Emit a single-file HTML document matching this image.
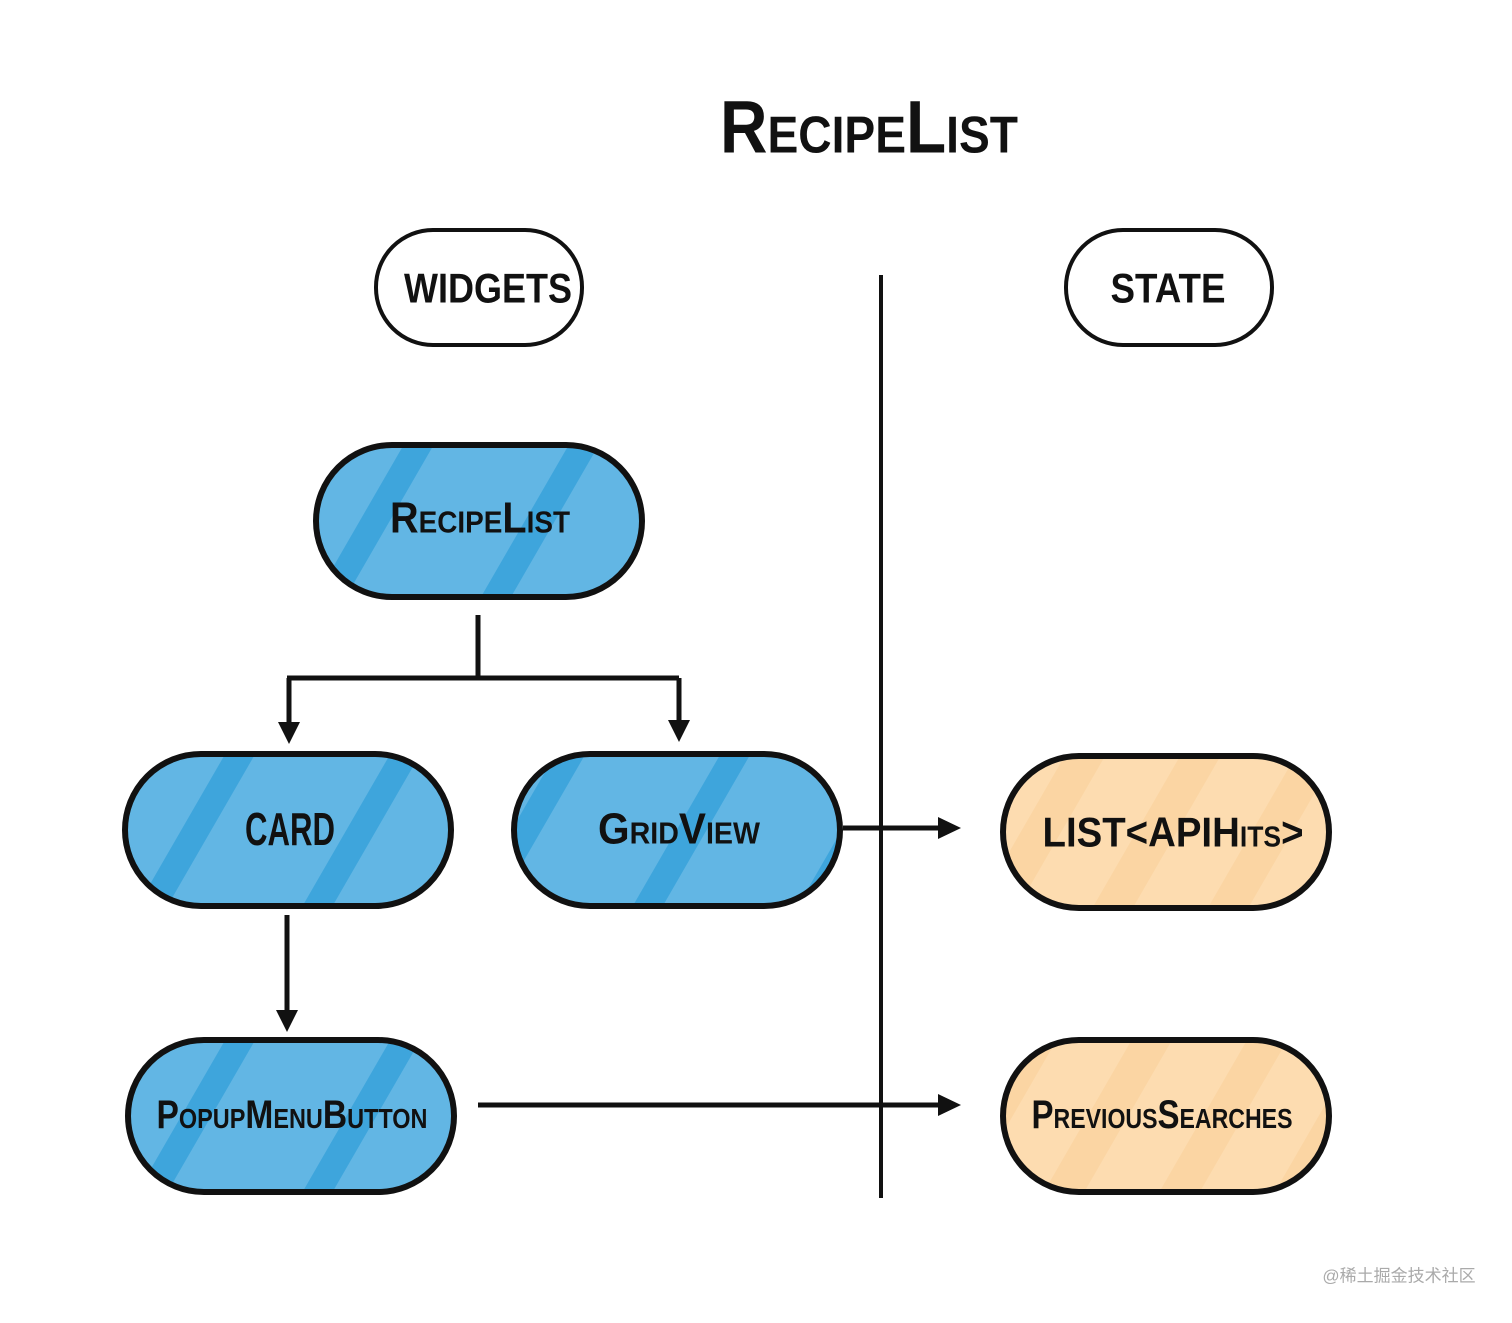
<!DOCTYPE html>
<html><head><meta charset="utf-8"><style>
html,body{margin:0;padding:0;background:#fff}
svg text{font-family:"Liberation Sans",sans-serif;font-weight:bold;fill:#111;text-anchor:middle;dominant-baseline:central}
</style></head><body>
<svg width="1512" height="1318" viewBox="0 0 1512 1318" xmlns="http://www.w3.org/2000/svg">
<defs>
<pattern id="bs" patternUnits="userSpaceOnUse" width="143" height="143" patternTransform="rotate(30)">
<rect width="143" height="143" fill="#62b6e4"/><rect x="0" width="26" height="143" fill="#3ea5dc"/>
</pattern>
<pattern id="os" patternUnits="userSpaceOnUse" width="100" height="100" patternTransform="rotate(30)">
<rect width="100" height="100" fill="#fddcb0"/><rect x="0" width="35" height="100" fill="#fbd5a3"/>
</pattern>
</defs>
<text x="869" y="127" textLength="298" lengthAdjust="spacingAndGlyphs" style="font-size:74px;font-variant:small-caps">RecipeList</text>

<rect x="376" y="230" width="206" height="115" rx="57" fill="#fff" stroke="#111" stroke-width="4"/>
<text x="488" y="288" textLength="168" lengthAdjust="spacingAndGlyphs" style="font-size:42px">WIDGETS</text>
<rect x="1066" y="230" width="206" height="115" rx="57" fill="#fff" stroke="#111" stroke-width="4"/>
<text x="1168" y="288" textLength="115" lengthAdjust="spacingAndGlyphs" style="font-size:42px">STATE</text>

<line x1="881" y1="275" x2="881" y2="1198" stroke="#111" stroke-width="4"/>

<g stroke="#111" stroke-width="6">
<rect x="316" y="445" width="326" height="152" rx="76" fill="url(#bs)"/>
<rect x="125" y="754" width="326" height="152" rx="76" fill="url(#bs)"/>
<rect x="514" y="754" width="326" height="152" rx="76" fill="url(#bs)"/>
<rect x="128" y="1040" width="326" height="152" rx="76" fill="url(#bs)"/>
<rect x="1003" y="756" width="326" height="152" rx="76" fill="url(#os)"/>
<rect x="1003" y="1040" width="326" height="152" rx="76" fill="url(#os)"/>
</g>
<g style="font-variant:small-caps">
<text x="480" y="518" textLength="180" lengthAdjust="spacingAndGlyphs" style="font-size:44px">RecipeList</text>
<text x="290" y="829" textLength="90" lengthAdjust="spacingAndGlyphs" style="font-size:46px">CARD</text>
<text x="679" y="829" textLength="162" lengthAdjust="spacingAndGlyphs" style="font-size:44px">GridView</text>
<text x="292" y="1115" textLength="271" lengthAdjust="spacingAndGlyphs" style="font-size:40px">PopupMenuButton</text>
<text x="1173" y="832" textLength="261" lengthAdjust="spacingAndGlyphs" style="font-size:42px">LIST&lt;APIHits&gt;</text>
<text x="1162" y="1115" textLength="261" lengthAdjust="spacingAndGlyphs" style="font-size:40px">PreviousSearches</text>
</g>

<g stroke="#111" stroke-width="5" fill="none">
<path d="M478 615 V678 M287 678 H679 M289 678 V725 M679 678 V723 M287 915 V1012 M843 828 H940 M478 1105 H940"/>
</g>
<g fill="#111">
<polygon points="278,722 300,722 289,744"/>
<polygon points="668,720 690,720 679,742"/>
<polygon points="276,1010 298,1010 287,1032"/>
<polygon points="938,817 938,839 961,828"/>
<polygon points="938,1094 938,1116 961,1105"/>
</g>
<text x="1399" y="1276" style="font-family:'Liberation Sans','Noto Sans CJK SC',sans-serif;font-weight:normal;font-size:17px;fill:#aaa">@稀土掘金技术社区</text>
</svg>
</body></html>
